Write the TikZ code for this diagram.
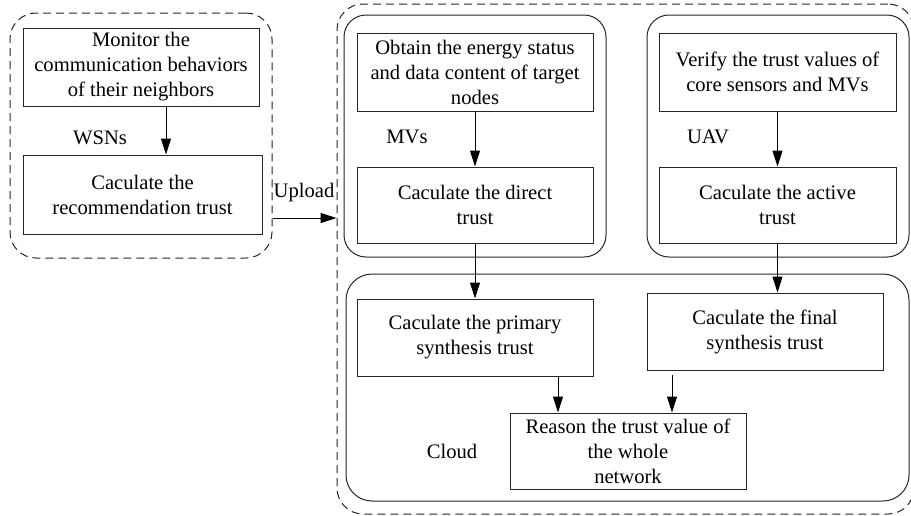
\documentclass[tikz,border=0pt]{standalone}
\usepackage{fontspec}
\setmainfont{Liberation Serif}
\usetikzlibrary{arrows.meta}

\begin{document}
\begin{tikzpicture}[x=0.5pt,y=-0.5pt,
  font=\fontsize{10.3}{12.5}\selectfont,
  box/.style={rectangle,draw=black!85,line width=0.5pt,align=center,inner sep=1pt},
  grp/.style={rectangle,draw=black!85,line width=0.5pt,rounded corners=11pt},
  dgrp/.style={grp,dash pattern=on 4pt off 2.5pt,rounded corners=13pt},
  arr/.style={-{Triangle[length=8pt,width=5pt]},line width=0.5pt}]
  \useasboundingbox (0,0) rectangle (911,515);

  % containers
  \node[dgrp,minimum width=131pt,minimum height=122.5pt] (wsn) at (141,135.5) {};
  \node[dgrp,minimum width=288.5pt,minimum height=255pt] (all) at (625.5,259) {};
  \node[grp,minimum width=131pt,minimum height=121pt] (mvs) at (475,136) {};
  \node[grp,minimum width=131pt,minimum height=121pt] (uav) at (778,136) {};
  \node[grp,rounded corners=13pt,minimum width=281.5pt,minimum height=113.5pt] (cloud) at (627.5,387.5) {};

  % steps
  \node[box,minimum width=118pt,minimum height=39pt] (mon) at (141,67) {Monitor the\\communication behaviors\\of their neighbors};
  \node[box,minimum width=119.5pt,minimum height=39.5pt] (rec) at (142.5,194.5) {Caculate the\\recommendation trust};
  \node[box,minimum width=118pt,minimum height=39pt] (obt) at (475,72) {Obtain the energy status\\and data content of target\\nodes};
  \node[box,minimum width=118pt,minimum height=38pt] (dir) at (475,205) {Caculate the direct\\trust};
  \node[box,minimum width=118.5pt,minimum height=39pt] (ver) at (777.5,72) {Verify the trust values of\\core sensors and MVs};
  \node[box,minimum width=118.5pt,minimum height=38pt] (act) at (777.5,205) {Caculate the active\\trust};
  \node[box,minimum width=118pt,minimum height=38.5pt] (pri) at (475,337.5) {Caculate the primary\\synthesis trust};
  \node[box,minimum width=118pt,minimum height=38.5pt] (fin) at (765,331.5) {Caculate the final\\synthesis trust};
  \node[box,minimum width=118pt,minimum height=38pt] (rea) at (628,451) {Reason the trust value of\\the whole\\network};

  % labels
  \node (lwsn) at (100,138) {WSNs};
  \node (lmvs) at (407,137) {MVs};
  \node (luav) at (708,137) {UAV};
  \node (lcld) at (452,451) {Cloud};
  \node (lupl) at (304,193) {Upload};

  % arrows
  \coordinate (a1) at (166,0);
  \coordinate (a6) at (558,0);
  \coordinate (f1) at (672,375);
  \coordinate (up) at (0,218);
  \draw[arr] (mon.south -| a1) -- (rec.north -| a1);
  \draw[arr] (obt) -- (dir);
  \draw[arr] (ver) -- (act);
  \draw[arr] (dir.south) -- (pri.north);
  \draw[arr] (act.south) -- (act.south |- fin.north);
  \draw[arr] (pri.south -| a6) -- (rea.north -| a6);
  \draw[arr] (f1) -- (rea.north -| f1);
  \draw[arr] (wsn.east |- up) -- (all.west |- up);
\end{tikzpicture}
\end{document}
